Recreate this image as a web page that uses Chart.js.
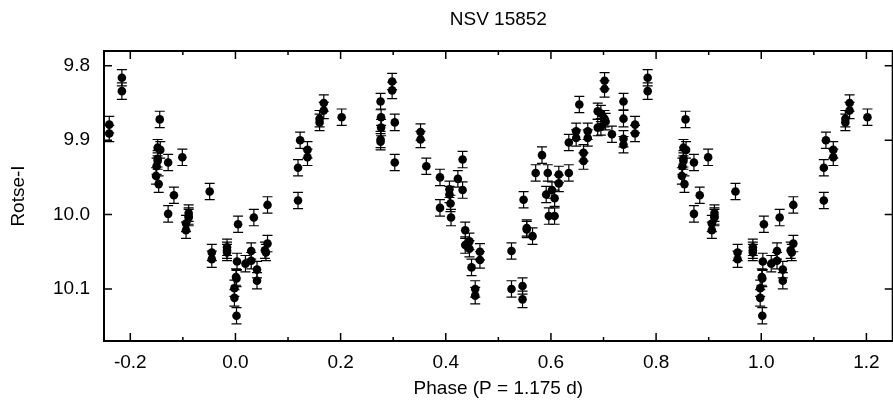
<!DOCTYPE html>
<html>
<head>
<meta charset="utf-8">
<script src="https://cdn.jsdelivr.net/npm/chart.js@4.4.1/dist/chart.umd.min.js"></script>
<style>
  html, body { margin: 0; padding: 0; background: #fff; overflow: hidden; }
  #wrap { width: 893px; height: 403px; overflow: hidden; }
</style>
</head>
<body>
<div id="wrap"><canvas id="lightcurve" width="897" height="403"></canvas></div>
<script>
// phased ROTSE-I photometry, phase 0..1 (repeated outside that range)
const phases = [0.002, 0.998, 0.998, 0.001, 0.002, 0.003, 0.005, 0.019, 0.030, 0.030,
    0.035, 0.041, 0.041, 0.056, 0.058, 0.061, 0.061, 0.119, 0.119, 0.123,
    0.137, 0.137, 0.160, 0.160, 0.168, 0.168, 0.202, 0.276, 0.277, 0.277,
    0.276, 0.276, 0.298, 0.298, 0.303, 0.303, 0.352, 0.352, 0.363, 0.389,
    0.389, 0.407, 0.407, 0.409, 0.410, 0.423, 0.432, 0.432, 0.437, 0.437,
    0.445, 0.445, 0.449, 0.465, 0.465, 0.456, 0.456, 0.525, 0.525, 0.546,
    0.546, 0.548, 0.554, 0.554, 0.565, 0.571, 0.583, 0.591, 0.594, 0.596,
    0.602, 0.607, 0.607, 0.615, 0.615, 0.634, 0.634, 0.648, 0.648, 0.654,
    0.662, 0.662, 0.670, 0.670, 0.689, 0.689, 0.695, 0.695, 0.702, 0.702,
    0.702, 0.704, 0.716, 0.738, 0.738, 0.738, 0.738, 0.760, 0.760, 0.784,
    0.784, 0.856, 0.852, 0.857, 0.852, 0.852, 0.850, 0.849, 0.854, 0.872,
    0.872, 0.883, 0.899, 0.906, 0.906, 0.911, 0.911, 0.911, 0.951, 0.955,
    0.955, 0.984, 0.984, 0.984];

const mags = [10.136, 10.112, 10.099, 10.084, 10.086, 10.063, 10.013, 10.066, 10.049, 10.062,
    10.004, 10.074, 10.089, 10.048, 10.051, 10.039, 9.987, 9.981, 9.937, 9.900,
    9.913, 9.923, 9.876, 9.871, 9.850, 9.860, 9.869, 9.848, 9.869, 9.883,
    9.899, 9.902, 9.821, 9.833, 9.876, 9.930, 9.889, 9.899, 9.935, 9.950,
    9.991, 9.966, 9.973, 9.985, 10.004, 9.952, 9.926, 9.967, 10.021, 10.041,
    10.036, 10.046, 10.071, 10.050, 10.061, 10.100, 10.109, 10.049, 10.100, 10.096,
    10.114, 9.980, 10.018, 10.020, 10.029, 9.944, 9.920, 9.973, 9.944, 10.002,
    9.967, 9.978, 10.002, 9.946, 9.958, 9.944, 9.903, 9.888, 9.897, 9.852,
    9.917, 9.928, 9.888, 9.897, 9.861, 9.883, 9.864, 9.882, 9.820, 9.831,
    9.871, 9.875, 9.892, 9.848, 9.871, 9.898, 9.906, 9.879, 9.891, 9.816,
    9.834, 9.872, 9.910, 9.913, 9.925, 9.928, 9.935, 9.948, 9.959, 9.930,
    9.999, 9.974, 9.923, 10.012, 10.021, 9.998, 10.002, 10.004, 9.969, 10.051,
    10.060, 10.044, 10.048, 10.051];

const magError = 0.011;

const xTicks = [-0.2, 0.0, 0.2, 0.4, 0.6, 0.8, 1.0, 1.2];
const xMinorTicks = [-0.1, 0.1, 0.3, 0.5, 0.7, 0.9, 1.1];
const yTicks = [9.8, 9.9, 10.0, 10.1];

const chartTitle = 'NSV 15852';
const xTitle = 'Phase (P = 1.175 d)';
const yTitle = 'Rotse-I';

const X_MIN = -0.25, X_MAX = 1.25;
const Y_MIN = 9.78, Y_MAX = 10.17;
const FONT = '"Liberation Sans", Arial, Helvetica, sans-serif';

// fold the points onto the plotted phase range
var points = [];
for (var i = 0; i < phases.length; i++) {
    [-1, 0, 1].forEach(function(k) {
        var x = phases[i] + k;
        if (x >= X_MIN && x <= X_MAX) {
            points.push({ x: x, y: mags[i] });
        }
    });
}

var errorBars = {
    id: 'errorBars',
    beforeDatasetsDraw: function(chart) {
        var ctx = chart.ctx, xs = chart.scales.x, ys = chart.scales.y;
        ctx.save();
        ctx.strokeStyle = '#000';
        ctx.lineWidth = 1.2;
        chart.data.datasets[0].data.forEach(function(p) {
            var px = xs.getPixelForValue(p.x);
            var top = ys.getPixelForValue(p.y - magError);
            var bot = ys.getPixelForValue(p.y + magError);
            ctx.beginPath();
            ctx.moveTo(px, top); ctx.lineTo(px, bot);
            ctx.moveTo(px - 5, top); ctx.lineTo(px + 5, top);
            ctx.moveTo(px - 5, bot); ctx.lineTo(px + 5, bot);
            ctx.stroke();
        });
        ctx.restore();
    }
};

var frame = {
    id: 'frame',
    afterDraw: function(chart) {
        var ctx = chart.ctx, a = chart.chartArea;
        var xs = chart.scales.x, ys = chart.scales.y;
        ctx.save();
        ctx.strokeStyle = '#000';
        ctx.lineWidth = 2;
        ctx.strokeRect(a.left, a.top, a.right - a.left, a.bottom - a.top);

        ctx.lineWidth = 1.5;
        ctx.beginPath();
        xTicks.forEach(function(v) {
            var px = xs.getPixelForValue(v);
            ctx.moveTo(px, a.bottom); ctx.lineTo(px, a.bottom - 8);
            ctx.moveTo(px, a.top); ctx.lineTo(px, a.top + 8);
        });
        xMinorTicks.forEach(function(v) {
            var px = xs.getPixelForValue(v);
            ctx.moveTo(px, a.bottom); ctx.lineTo(px, a.bottom - 4);
            ctx.moveTo(px, a.top); ctx.lineTo(px, a.top + 4);
        });
        yTicks.forEach(function(v) {
            var py = ys.getPixelForValue(v);
            ctx.moveTo(a.left, py); ctx.lineTo(a.left + 8, py);
            ctx.moveTo(a.right, py); ctx.lineTo(a.right - 8, py);
        });
        ctx.stroke();

        ctx.fillStyle = '#000';
        ctx.font = '19px ' + FONT;
        ctx.textAlign = 'center';
        ctx.textBaseline = 'middle';
        ctx.fillText(chartTitle, (a.left + a.right) / 2, 20);
        ctx.restore();
    }
};

document.addEventListener("DOMContentLoaded", function() {
    var canvas = document.getElementById("lightcurve");

    var data = {
        datasets: [{
            label: yTitle,
            data: points,
            backgroundColor: '#000',
            borderWidth: 0,
            pointRadius: 4.3,
            pointHoverRadius: 4.3
        }]
    };

    var options = {
        responsive: false,
        animation: false,
        events: [],
        layout: { padding: { top: 51, right: 1, left: 0, bottom: 0 } },
        plugins: {
            legend: { display: false },
            title: { display: false },
            tooltip: { enabled: false }
        },
        scales: {
            x: {
                type: 'linear',
                min: X_MIN,
                max: X_MAX,
                afterBuildTicks: function(scale) {
                    scale.ticks = xTicks.map(function(v) { return { value: v }; });
                },
                afterFit: function(scale) { scale.height = 62; },
                grid: { display: false, drawTicks: false },
                border: { display: false },
                ticks: {
                    autoSkip: false,
                    maxRotation: 0,
                    padding: 10,
                    color: '#000',
                    font: { family: FONT, size: 19 },
                    callback: function(v) { return v.toFixed(1); }
                },
                title: {
                    display: true,
                    text: xTitle,
                    color: '#000',
                    font: { family: FONT, size: 19 },
                    padding: { top: 0, bottom: 3 }
                }
            },
            y: {
                type: 'linear',
                reverse: true,
                min: Y_MIN,
                max: Y_MAX,
                afterBuildTicks: function(scale) {
                    scale.ticks = yTicks.map(function(v) { return { value: v }; });
                },
                afterFit: function(scale) { scale.width = 104; },
                grid: { display: false, drawTicks: false },
                border: { display: false },
                ticks: {
                    padding: 14,
                    color: '#000',
                    font: { family: FONT, size: 19 },
                    callback: function(v) { return v.toFixed(1); }
                },
                title: {
                    display: true,
                    text: yTitle,
                    color: '#000',
                    font: { family: FONT, size: 19 },
                    padding: { top: 7, bottom: 0 }
                }
            }
        }
    };

    new Chart(canvas, {
        type: 'scatter',
        data: data,
        options: options,
        plugins: [errorBars, frame]
    });
});
</script>
</body>
</html>
